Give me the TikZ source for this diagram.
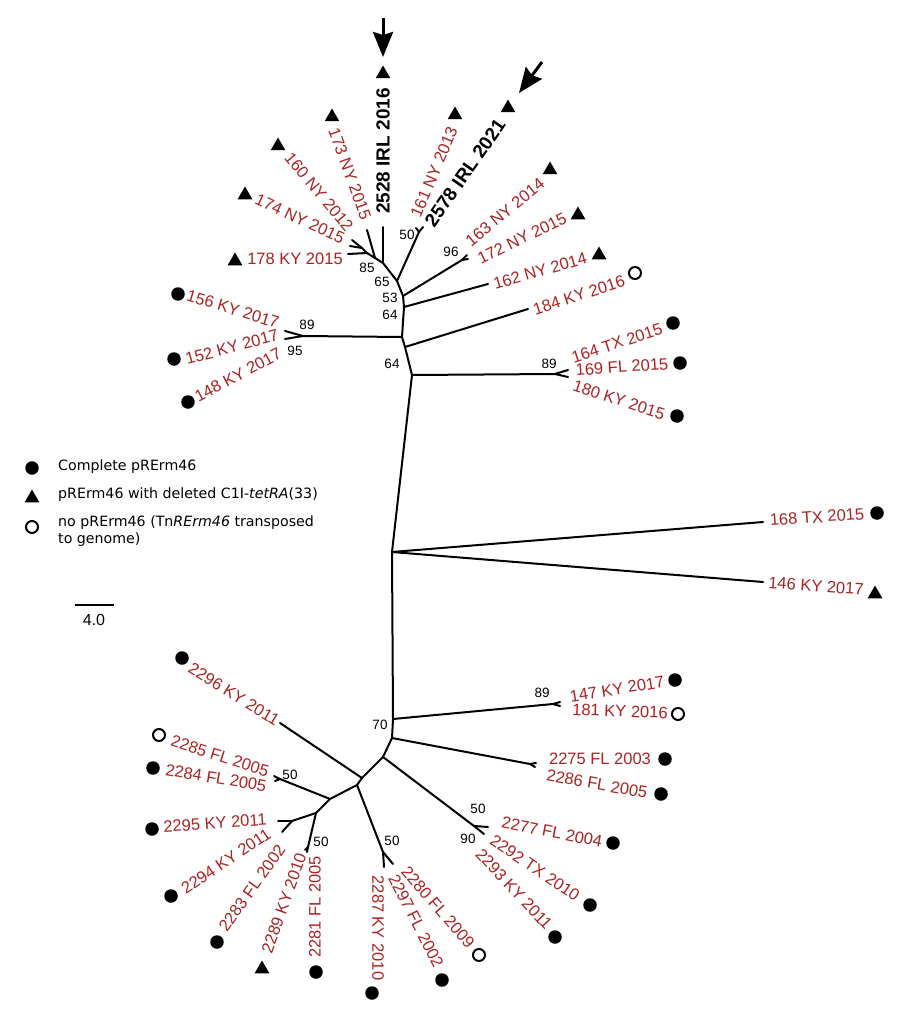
\documentclass[tikz,border=0pt]{standalone}
\usepackage{fontspec}
\setmainfont{Liberation Sans}
\newfontfamily\legfont{DejaVu Sans}
\usetikzlibrary{shapes.geometric,arrows.meta}
\definecolor{tred}{RGB}{172,34,34}
\tikzset{
 br/.style={line width=2pt, line cap=round, line join=round},
 lab/.style={text=tred, font=\fontsize{16.5}{18}\selectfont, inner sep=0pt},
 blab/.style={text=black, font=\fontsize{19}{21}\selectfont\bfseries, inner sep=0pt},
 bs/.style={font=\fontsize{13.5}{15}\selectfont, inner sep=0pt},
 dot/.style={circle, fill, inner sep=0pt, minimum size=13.5pt},
 ocirc/.style={circle, draw, line width=2pt, inner sep=0pt, minimum size=12pt},
 tri/.style={regular polygon, regular polygon sides=3, fill, inner sep=0pt, minimum size=17pt},
 leg/.style={font=\legfont\fontsize{14.2}{17}\selectfont, inner sep=0pt, anchor=west, align=left},
 pointer/.style={line width=3pt, -{Stealth[length=25pt,width=20pt,inset=3pt]}},
}
\begin{document}
\begin{tikzpicture}[x=1pt,y=-1pt]
\useasboundingbox (0,0) rectangle (900,1011);
% internal nodes and tips
\coordinate (nA) at (362,248); \coordinate (t160) at (352,240); \coordinate (t174) at (350,246);
\coordinate (nB) at (367,253); \coordinate (t178) at (348,254);
\coordinate (nC) at (375,258); \coordinate (t173) at (367,230);
\coordinate (nD) at (383,263); \coordinate (t2528) at (383,227);
\coordinate (nE) at (397,281); \coordinate (f161) at (419,232); \coordinate (t161) at (416,228); \coordinate (t2578) at (423,227);
\coordinate (nF) at (403,296); \coordinate (f163) at (462,260); \coordinate (t163) at (467,255); \coordinate (t172) at (468,259);
\coordinate (nG) at (404,307); \coordinate (t162) at (488,284);
\coordinate (nH) at (402,337); \coordinate (f152) at (303,336); \coordinate (t156) at (285,331); \coordinate (t152) at (285,339);
\coordinate (nI) at (405,347); \coordinate (t184) at (528,309);
\coordinate (nJ) at (412,375); \coordinate (f164) at (555,374); \coordinate (t164) at (568,370); \coordinate (t169) at (568,377);
\coordinate (nK) at (392,552); \coordinate (t168) at (763,522); \coordinate (t146) at (763,582);
\coordinate (nL) at (393,719); \coordinate (f147) at (553,704); \coordinate (t147) at (560,702); \coordinate (t181) at (560,706);
\coordinate (nM) at (392,738); \coordinate (f2275) at (530,764); \coordinate (t2275) at (536,763); \coordinate (t2286) at (535,767);
\coordinate (nN) at (383,757); \coordinate (f2277) at (474,826); \coordinate (t2277) at (488,827); \coordinate (t2292) at (484,834);
\coordinate (nO) at (362,778); \coordinate (t2296) at (280,723);
\coordinate (nP) at (357,785); \coordinate (f2287) at (383,852); \coordinate (t2287) at (384,867); \coordinate (t2297) at (393,864);
\coordinate (nQ) at (330,799); \coordinate (f2284) at (280,779); \coordinate (t2285) at (274,776); \coordinate (t2284) at (275,781);
\coordinate (nR) at (316,813); \coordinate (f2281) at (308,847); \coordinate (t2281) at (307,852); \coordinate (t2289) at (305,850);
\coordinate (nS) at (292,821); \coordinate (t2295) at (278,821); \coordinate (t2294) at (282,832);
% spine
\draw[br] (nA) -- (nB) -- (nC) -- (nD) -- (nE) -- (nF) -- (nG) -- (nH) -- (nI) -- (nJ) -- (nK) -- (nL) -- (nM) -- (nN) -- (nO) -- (nP) -- (nQ) -- (nR) -- (nS);
% branches
\draw[br] (nA) -- (t160); \draw[br] (nA) -- (t174);
\draw[br] (nB) -- (t178);
\draw[br] (nC) -- (t173);
\draw[br] (nD) -- (t2528);
\draw[br] (nE) -- (f161) -- (t161); \draw[br] (f161) -- (t2578);
\draw[br] (nF) -- (f163) -- (t163); \draw[br] (f163) -- (t172);
\draw[br] (nG) -- (t162);
\draw[br] (nH) -- (f152) -- (t156); \draw[br] (f152) -- (t152);
\draw[br] (nI) -- (t184);
\draw[br] (nJ) -- (f164) -- (t164); \draw[br] (f164) -- (t169);
\draw[br] (nK) -- (t168); \draw[br] (nK) -- (t146);
\draw[br] (nL) -- (f147) -- (t147); \draw[br] (f147) -- (t181);
\draw[br] (nM) -- (f2275) -- (t2275); \draw[br] (f2275) -- (t2286);
\draw[br] (nN) -- (f2277) -- (t2277); \draw[br] (f2277) -- (t2292);
\draw[br] (nO) -- (t2296);
\draw[br] (nP) -- (f2287) -- (t2287); \draw[br] (f2287) -- (t2297);
\draw[br] (nQ) -- (f2284) -- (t2285); \draw[br] (f2284) -- (t2284);
\draw[br] (nR) -- (f2281) -- (t2281); \draw[br] (f2281) -- (t2289);
\draw[br] (nS) -- (t2295); \draw[br] (nS) -- (t2294);
% bootstrap values
\node[bs] (b85) at (367,268) {85};
\node[bs] (b65) at (382,282) {65};
\node[bs] (b50a) at (407,235) {50};
\node[bs] (b96) at (451,252) {96};
\node[bs] (b53) at (390,298) {53};
\node[bs] (b64a) at (390,315) {64};
\node[bs] (b89a) at (307,325) {89};
\node[bs] (b95) at (295,351) {95};
\node[bs] (b64b) at (392,364) {64};
\node[bs] (b89b) at (549,364) {89};
\node[bs] (b89c) at (542,693) {89};
\node[bs] (b70) at (380,725) {70};
\node[bs] (b50b) at (290,775) {50};
\node[bs] (b50c) at (478,809) {50};
\node[bs] (b90) at (468,839) {90};
\node[bs] (b50d) at (321,842) {50};
\node[bs] (b50e) at (392,841) {50};
% leaf labels
\node[lab,rotate=-25] (l174) at (300,219) {174 NY 2015};
\node[lab,rotate=-50] (l160) at (319,192) {160 NY 2012};
\node[lab,rotate=-70] (l173) at (350,174) {173 NY 2015};
\node[blab,rotate=90] (l2528) at (383,151) {2528 IRL 2016};
\node[lab,rotate=67] (l161) at (434,172) {161 NY 2013};
\node[blab,rotate=55] (l2578) at (465,173) {2578 IRL 2021};
\node[lab,rotate=39.5] (l163) at (505,212) {163 NY 2014};
\node[lab,rotate=26] (l172) at (522,238) {172 NY 2015};
\node[lab,rotate=16] (l162) at (540,271) {162 NY 2014};
\node[lab,rotate=18] (l184) at (579,295) {184 KY 2016};
\node[lab,rotate=18] (l164) at (617,343) {164 TX 2015};
\node[lab,rotate=4] (l169) at (622,367) {169 FL 2015};
\node[lab,rotate=-18] (l180) at (619,400) {180 KY 2015};
\node[lab,rotate=-17] (l156) at (233,309) {156 KY 2017};
\node[lab,rotate=15] (l152) at (232,347) {152 KY 2017};
\node[lab,rotate=28] (l148) at (238,375) {148 KY 2017};
\node[lab] (l178) at (295,259) {178 KY 2015};
\node[lab,rotate=4] (l168) at (817,517) {168 TX 2015};
\node[lab,rotate=-4] (l146) at (816,586) {146 KY 2017};
\node[lab,rotate=9] (l147) at (617,689) {147 KY 2017};
\node[lab,rotate=-2] (l181) at (620,711) {181 KY 2016};
\node[lab] (l2275) at (600,759) {2275 FL 2003};
\node[lab,rotate=-10] (l2286) at (597,784) {2286 FL 2005};
\node[lab,rotate=-11] (l2277) at (552,832) {2277 FL 2004};
\node[lab,rotate=-34] (l2292) at (535,868) {2292 TX 2010};
\node[lab,rotate=-47] (l2293) at (514,889) {2293 KY 2011};
\node[lab,rotate=-49] (l2280) at (438,907) {2280 FL 2009};
\node[lab,rotate=-63] (l2297) at (416,921) {2297 FL 2002};
\node[lab,rotate=-90] (l2287) at (378,928) {2287 KY 2010};
\node[lab,rotate=90] (l2281) at (315,907) {2281 FL 2005};
\node[lab,rotate=70.5] (l2289) at (284,903) {2289 KY 2010};
\node[lab,rotate=54.5] (l2283) at (252,888) {2283 FL 2002};
\node[lab,rotate=33.7] (l2294) at (226,861) {2294 KY 2011};
\node[lab,rotate=4] (l2295) at (215,823) {2295 KY 2011};
\node[lab,rotate=-9.5] (l2284) at (216,778) {2284 FL 2005};
\node[lab,rotate=-18] (l2285) at (220,756) {2285 FL 2005};
\node[lab,rotate=-32] (l2296) at (234,694) {2296 KY 2011};
% markers
\node[tri] (m174) at (245,195) {};
\node[tri] (m160) at (278,146) {};
\node[tri] (m173) at (332,117) {};
\node[tri] (m2528) at (383,74) {};
\node[tri] (m161) at (455,115) {};
\node[tri] (m2578) at (508,108) {};
\node[tri] (m163) at (550,170) {};
\node[tri] (m172) at (578,215) {};
\node[tri] (m162) at (599,255) {};
\node[ocirc] (m184) at (635,273) {};
\node[dot] (m164) at (673,323) {};
\node[dot] (m169) at (680,363) {};
\node[dot] (m180) at (677,416) {};
\node[dot] (m156) at (178,294) {};
\node[dot] (m152) at (174,359) {};
\node[dot] (m148) at (188,402) {};
\node[tri] (m178) at (235,261) {};
\node[dot] (m168) at (877,513) {};
\node[tri] (m146) at (875,594) {};
\node[dot] (m147) at (675,680) {};
\node[ocirc] (m181) at (678,714) {};
\node[dot] (m2275) at (665,759) {};
\node[dot] (m2286) at (661,794) {};
\node[dot] (m2277) at (613,843) {};
\node[dot] (m2292) at (590,905) {};
\node[dot] (m2293) at (555,937) {};
\node[ocirc] (m2280) at (479,955) {};
\node[dot] (m2297) at (442,980) {};
\node[dot] (m2287) at (372,993) {};
\node[dot] (m2281) at (316,972) {};
\node[tri] (m2289) at (262,969) {};
\node[dot] (m2283) at (217,942) {};
\node[dot] (m2294) at (171,896) {};
\node[dot] (m2295) at (152,829) {};
\node[dot] (m2284) at (153,768) {};
\node[ocirc] (m2285) at (159,735) {};
\node[dot] (m2296) at (182,658) {};
% arrows
\coordinate (a1s) at (383,18); \coordinate (a1e) at (383,57);
\coordinate (a2s) at (542,62); \coordinate (a2e) at (519,93);
\draw[pointer] (a1s) -- (a1e);
\draw[pointer] (a2s) -- (a2e);
% legend
\node[dot] (k1) at (32,468) {};
\node[tri] (k2) at (32,498) {};
\node[ocirc] (k3) at (32,527) {};
\node[leg] (g1) at (58,467) {Complete pRErm46};
\node[leg] (g2) at (58,495) {pRErm46 with deleted C1I-\textit{tetRA}(33)};
\node[leg] (g3) at (58,531) {no pRErm46 (Tn\textit{RErm46} transposed\\to genome)};
% scale bar
\coordinate (s1) at (75,605); \coordinate (s2) at (114,605);
\draw[line width=1.5pt] (s1) -- (s2);
\node[inner sep=0pt, font=\fontsize{16}{18}\selectfont] (sl) at (94,620) {4.0};
\end{tikzpicture}
\end{document}
